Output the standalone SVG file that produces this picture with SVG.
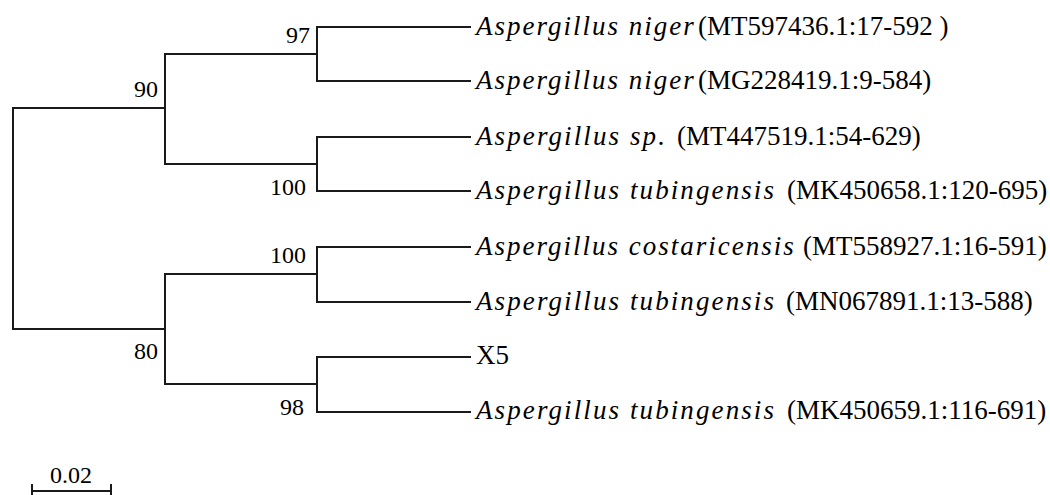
<svg xmlns="http://www.w3.org/2000/svg" width="1050" height="495" viewBox="0 0 1050 495">
  <style>
    .br { fill: none; stroke: #1a1a1a; stroke-width: 2; stroke-linecap: square; }
    .lbl { font-family: "Liberation Serif", "Times New Roman", serif; font-size: 27px; fill: #000; }
    .it { font-style: italic; letter-spacing: 2px; }
    .itw { font-style: italic; letter-spacing: 2.1px; }
    .bs { font-family: "Liberation Serif", "Times New Roman", serif; font-size: 24px; fill: #000; text-anchor: end; }
    .sc { font-family: "Liberation Serif", "Times New Roman", serif; font-size: 24px; fill: #000; text-anchor: middle; }
  </style>
  <rect width="1050" height="495" fill="#ffffff"/>

  <g id="connectors">
    <path class="br" d="M165 108 H13 V329 H165"/>
    <path class="br" d="M317 54 H165 V164 H317"/>
    <path class="br" d="M470 27 H317 V81 H470"/>
    <path class="br" d="M470 137 H317 V191 H470"/>
    <path class="br" d="M317 274 H165 V384 H317"/>
    <path class="br" d="M470 247 H317 V302 H470"/>
    <path class="br" d="M470 357 H317 V412 H470"/>
  </g>

  <g id="node-90"><text class="bs" x="158" y="97">90</text></g>
  <g id="node-97"><text class="bs" x="310" y="43">97</text></g>
  <g id="node-100a"><text class="bs" x="306" y="195">100</text></g>
  <g id="node-80"><text class="bs" x="158" y="359">80</text></g>
  <g id="node-100b"><text class="bs" x="306" y="263">100</text></g>
  <g id="node-98"><text class="bs" x="304" y="415">98</text></g>

  <g id="leaf-MT597436"><text class="lbl" x="476" y="35"><tspan class="it">Aspergillus niger</tspan><tspan x="698">(MT597436.1:17-592 )</tspan></text></g>
  <g id="leaf-MG228419"><text class="lbl" x="476" y="89"><tspan class="it">Aspergillus niger</tspan><tspan x="698">(MG228419.1:9-584)</tspan></text></g>
  <g id="leaf-MT447519"><text class="lbl" x="476" y="145"><tspan class="itw">Aspergillus sp.</tspan><tspan x="677">(MT447519.1:54-629)</tspan></text></g>
  <g id="leaf-MK450658"><text class="lbl" x="476" y="199"><tspan class="itw">Aspergillus tubingensis</tspan><tspan x="787">(MK450658.1:120-695)</tspan></text></g>
  <g id="leaf-MT558927"><text class="lbl" x="476" y="255"><tspan class="it">Aspergillus costaricensis</tspan><tspan x="803">(MT558927.1:16-591)</tspan></text></g>
  <g id="leaf-MN067891"><text class="lbl" x="476" y="310"><tspan class="itw">Aspergillus tubingensis</tspan><tspan x="786">(MN067891.1:13-588)</tspan></text></g>
  <g id="leaf-X5"><text class="lbl" x="476" y="364">X5</text></g>
  <g id="leaf-MK450659"><text class="lbl" x="476" y="419"><tspan class="itw">Aspergillus tubingensis</tspan><tspan x="787">(MK450659.1:116-691)</tspan></text></g>

  <g id="scale-bar">
    <path class="br" d="M32 491 H111 M32 484 V495 M111 484 V495" style="stroke-linecap:butt"/>
    <text class="sc" x="71" y="483">0.02</text>
  </g>
</svg>
